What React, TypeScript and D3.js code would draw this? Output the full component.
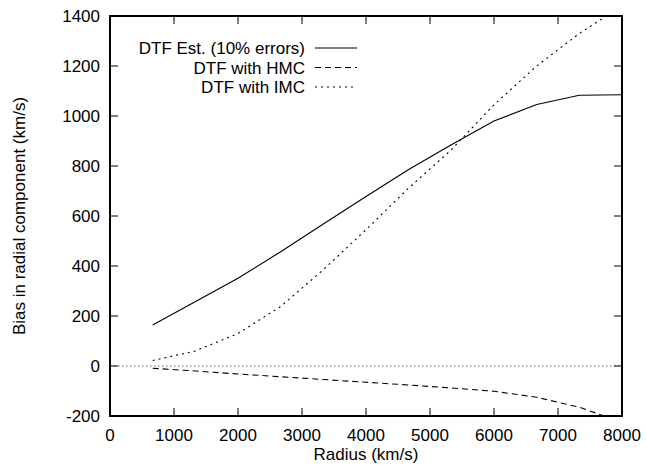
import React from "react";
import * as d3 from "d3";

const estX = [667, 2000, 2667, 3333, 4000, 4667, 5333, 6000, 6667, 7333, 8000];
const estY = [164, 351, 457, 568, 678, 786, 885, 980, 1046, 1083, 1085];
const hmcX = [667, 1333, 2000, 2667, 3333, 4000, 4667, 5333, 6000, 6667, 7333, 8000];
const hmcY = [-9, -20, -32, -43, -54, -65, -76, -88, -101, -125, -165, -225];
const imcX = [667, 1333, 2000, 2667, 3333, 4000, 4667, 5333, 6000, 6667, 7333, 8000];
const imcY = [22, 60, 130, 238, 385, 545, 712, 865, 1045, 1200, 1330, 1440];
const xTicks = [0, 1000, 2000, 3000, 4000, 5000, 6000, 7000, 8000];
const yTicks = [-200, 0, 200, 400, 600, 800, 1000, 1200, 1400];
const legendLabels = ["DTF Est. (10% errors)", "DTF with HMC", "DTF with IMC"];

const W = 646, H = 468;
const L = 110, R = 622, T = 16, B = 416;
const font = "'Liberation Sans', Arial, Helvetica, sans-serif";

export default function App() {
  const x = d3.scaleLinear().domain([0, 8000]).range([L, R]);
  const y = d3.scaleLinear().domain([-200, 1400]).range([B, T]);
  const line = (xs: number[], ys: number[]) =>
    d3.line<number>().x((_, i) => x(xs[i])).y((_, i) => y(ys[i]))(xs) || "";
  const dashes = ["", "6,4", "2,4"];
  const series = [
    line(estX, estY),
    line(hmcX, hmcY),
    line(imcX, imcY),
  ];
  return (
    <svg width={W} height={H} style={{ position: "absolute", left: 0, top: 0 }} fontFamily={font}>
      <rect width={W} height={H} fill="#fff" />
      <defs>
        <clipPath id="clip">
          <rect x={L} y={T} width={R - L} height={B - T} />
        </clipPath>
      </defs>
      <line x1={x(0)} x2={x(8000)} y1={y(0)} y2={y(0)} stroke="#666" strokeWidth={1} strokeDasharray="1.5,2.5" />
      {xTicks.map((t) => (
        <g key={"x" + t}>
          <line x1={x(t)} x2={x(t)} y1={B} y2={B - 8} stroke="#000" strokeWidth={1} />
          <line x1={x(t)} x2={x(t)} y1={T} y2={T + 8} stroke="#000" strokeWidth={1} />
          <text x={x(t)} y={441} fontSize={17} textAnchor="middle">{t}</text>
        </g>
      ))}
      {yTicks.map((t) => (
        <g key={"y" + t}>
          <line x1={L} x2={L + 8} y1={y(t)} y2={y(t)} stroke="#000" strokeWidth={1} />
          <line x1={R} x2={R - 8} y1={y(t)} y2={y(t)} stroke="#000" strokeWidth={1} />
          <text x={100} y={y(t) + 6} fontSize={17} textAnchor="end">{t}</text>
        </g>
      ))}
      <g clipPath="url(#clip)">
        {series.map((d, i) => (
          <path key={i} d={d} fill="none" stroke="#000" strokeWidth={1.1} strokeDasharray={dashes[i]} />
        ))}
      </g>
      {legendLabels.map((lab, i) => (
        <g key={lab}>
          <text x={305} y={54 + i * 19.5} fontSize={17} textAnchor="end">{lab}</text>
          <line x1={315} x2={357} y1={48 + i * 19.5} y2={48 + i * 19.5} stroke="#000" strokeWidth={1.1} strokeDasharray={dashes[i]} />
        </g>
      ))}
      <rect x={L} y={T} width={R - L} height={B - T} fill="none" stroke="#000" strokeWidth={2} />
      <text x={366} y={460} fontSize={17} textAnchor="middle">Radius (km/s)</text>
      <text transform={`translate(25,${(T + B) / 2}) rotate(-90)`} fontSize={17} textAnchor="middle">Bias in radial component (km/s)</text>
    </svg>
  );
}
